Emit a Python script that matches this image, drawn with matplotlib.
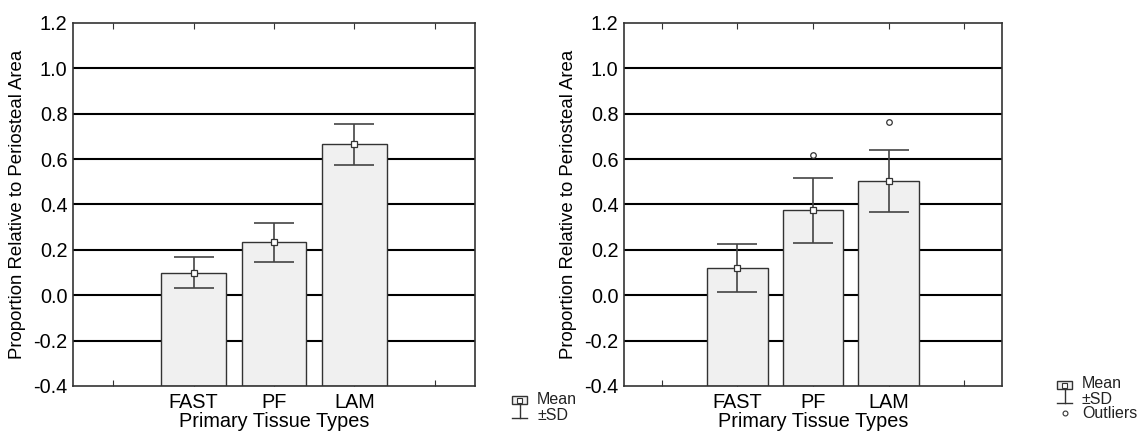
import numpy as np
import matplotlib
matplotlib.use('Agg')
import matplotlib.pyplot as plt
from matplotlib.patches import Rectangle
from matplotlib.lines import Line2D

plt.rcParams['font.family'] = ['Liberation Sans', 'DejaVu Sans']
plt.rcParams['text.color'] = '#222222'

#### DATA ####
categories = ['FAST', 'PF', 'LAM']
yticks = [-0.4, -0.2, 0.0, 0.2, 0.4, 0.6, 0.8, 1.0, 1.2]

left_means = [0.10, 0.233, 0.665]
left_sd = [0.069, 0.086, 0.09]

right_means = [0.12, 0.374, 0.504]
right_sd = [0.107, 0.142, 0.136]
outlier_cat = [1, 2]
outlier_val = [0.62, 0.762]

ylabel = 'Proportion Relative to Periosteal Area'
xlabel = 'Primary Tissue Types'

INK = '#333333'


def panel(ax, means, sd):
    x = np.arange(len(categories))
    for v in yticks[1:-1]:
        ax.axhline(v, color='black', lw=1.5, zorder=0)
    # bars drawn from the bottom of the axis
    ax.bar(x, np.array(means) + 0.4, bottom=-0.4, width=0.8, color='#f0f0f0',
           edgecolor=INK, lw=1.0, zorder=2)
    ax.errorbar(x, means, yerr=sd, fmt='none', ecolor='#444444', elinewidth=1.2,
                capsize=14.5, capthick=1.2, zorder=3)
    ax.plot(x, means, 's', ms=4.5, mfc='white', mec=INK, mew=0.9, zorder=4)
    ax.set_xlim(-1.5, 3.5)
    ax.set_ylim(-0.4, 1.2)
    ax.set_xticks([-1, 0, 1, 2, 3])
    ax.set_xticklabels([''] + categories + [''], fontsize=14.3)
    ax.set_yticks(yticks)
    ax.set_yticklabels([f'{v:.1f}' for v in yticks], fontsize=14.3)
    ax.tick_params(axis='x', direction='in', length=4, color=INK, top=True, pad=5)
    ax.tick_params(axis='y', length=0, pad=4)
    for s in ax.spines.values():
        s.set_color(INK)
        s.set_linewidth(1.2)
    ax.set_ylabel(ylabel, fontsize=13.4, labelpad=5)
    ax.set_xlabel(xlabel, fontsize=14.3, labelpad=0)


fig = plt.figure(figsize=(11.42, 4.42), dpi=100)
ax1 = fig.add_axes([0.0639, 0.1267, 0.352, 0.8213])
ax2 = fig.add_axes([0.5464, 0.1267, 0.331, 0.8213])

panel(ax1, left_means, left_sd)
panel(ax2, right_means, right_sd)
ax2.plot(outlier_cat, outlier_val, 'o', ms=4, mfc='white', mec=INK, mew=0.9, zorder=4)


def legend_icon(x0, y0, outliers=False):
    # x0, y0: top-left corner of icon box in pixels
    W, H = 1142.0, 442.0
    fx = lambda p: p / W
    fy = lambda p: 1 - p / H
    fig.add_artist(Rectangle((fx(x0), fy(y0 + 8)), fx(15), 8 / H, transform=fig.transFigure,
                             facecolor='#f0f0f0', edgecolor=INK, lw=1.0))
    fig.add_artist(Rectangle((fx(x0 + 5), fy(y0 + 6.5)), fx(5), 5 / H, transform=fig.transFigure,
                             facecolor='white', edgecolor=INK, lw=0.8))
    fig.add_artist(Line2D([fx(x0 + 7.5)] * 2, [fy(y0 + 8), fy(y0 + 22)],
                          transform=fig.transFigure, color=INK, lw=1.0))
    fig.add_artist(Line2D([fx(x0), fx(x0 + 15)], [fy(y0 + 22)] * 2,
                          transform=fig.transFigure, color=INK, lw=1.0))
    fig.text(fx(x0 + 25), fy(y0 + 3), 'Mean', fontsize=11.5, va='center')
    fig.text(fx(x0 + 25), fy(y0 + 19), '±SD', fontsize=11.5, va='center')
    if outliers:
        fig.add_artist(Line2D([fx(x0 + 7.5)], [fy(y0 + 32)], marker='o', ms=3.5,
                              mfc='white', mec=INK, mew=0.8, transform=fig.transFigure))
        fig.text(fx(x0 + 25), fy(y0 + 32), 'Outliers', fontsize=11.5, va='center')


legend_icon(512, 396)
legend_icon(1057, 381, outliers=True)

fig.savefig('out.png', dpi=100)
